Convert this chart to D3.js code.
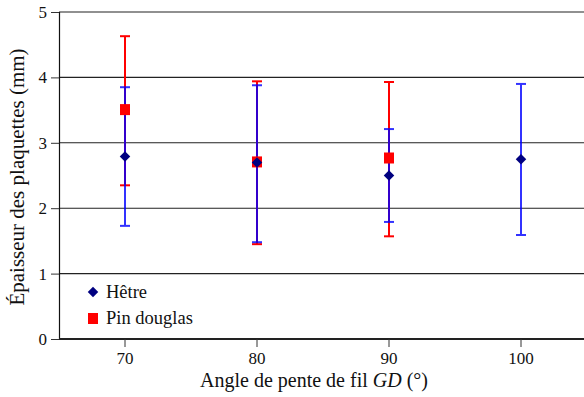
<!DOCTYPE html>
<html>
<head>
<meta charset="utf-8">
<script src="https://cdn.jsdelivr.net/npm/d3@7/dist/d3.min.js"></script>
<style>
  body { margin: 0; background: #fff; }
  svg { display: block; }
</style>
</head>
<body>
<svg id="chart" width="584" height="397" font-family="Liberation Serif"></svg>
<script>
// Fibre angle categories (x axis)
const angles = ["70", "80", "90", "100"];

// Hêtre: mean thickness and error bar limits (mm)
const hetreMean = [2.79, 2.70, 2.50, 2.75];
const hetreLow  = [1.73, 1.48, 1.79, 1.59];
const hetreHigh = [3.85, 3.88, 3.21, 3.90];

// Pin douglas: mean thickness and error bar limits (mm); no sample at 100°
const pinMean = [3.50, 2.70, 2.76, null];
const pinLow  = [2.35, 1.45, 1.57, null];
const pinHigh = [4.63, 3.94, 3.93, null];

const yTicks = [0, 1, 2, 3, 4, 5];

const FONT = "Liberation Serif";

const svg = d3.select("#chart");
const margin = { left: 59, top: 12, right: 0, bottom: 58 };
const width = 584, height = 397;

const x = d3.scaleBand().domain(angles).range([margin.left, 587]);
const y = d3.scaleLinear().domain([0, 5]).range([height - margin.bottom, margin.top]);

// horizontal grid lines
svg.append("g")
  .selectAll("line")
  .data(yTicks.filter(d => d > 0))
  .join("line")
  .attr("x1", margin.left).attr("x2", width)
  .attr("y1", d => y(d)).attr("y2", d => y(d))
  .attr("stroke", "#222").attr("stroke-width", 1.1);

// y axis
const yAxis = svg.append("g")
  .attr("transform", `translate(${margin.left},0)`)
  .call(d3.axisLeft(y).tickValues(yTicks).tickFormat(d3.format("d")).tickSize(8).tickPadding(4));
yAxis.attr("font-family", FONT).attr("font-size", 17);
yAxis.select(".domain").attr("stroke", "#111").attr("stroke-width", 1.2);
yAxis.selectAll(".tick line").attr("stroke", "#333");
yAxis.selectAll("text").attr("fill", "#111");

// x axis
const xAxis = svg.append("g")
  .attr("transform", `translate(0,${y(0)})`)
  .call(d3.axisBottom(x).tickSize(8).tickPadding(5).tickSizeOuter(0));
xAxis.attr("font-family", FONT).attr("font-size", 17);
xAxis.select(".domain").attr("stroke", "#222").attr("stroke-width", 2)
  .attr("d", `M${margin.left},0H${width}`);
xAxis.selectAll(".tick line").attr("stroke", "#333");
xAxis.selectAll("text").attr("fill", "#111");

const cx = i => x(angles[i]) + x.bandwidth() / 2;

function errorBars(mean, low, high, color, opacity) {
  const idx = mean.map((m, i) => i).filter(i => mean[i] != null);
  const g = svg.append("g").attr("stroke", color).attr("stroke-width", 2).attr("opacity", opacity);
  g.selectAll(".v").data(idx).join("line")
    .attr("x1", cx).attr("x2", cx)
    .attr("y1", i => y(low[i])).attr("y2", i => y(high[i]));
  g.selectAll(".lo").data(idx).join("line")
    .attr("x1", i => cx(i) - 5).attr("x2", i => cx(i) + 5)
    .attr("y1", i => y(low[i])).attr("y2", i => y(low[i]));
  g.selectAll(".hi").data(idx).join("line")
    .attr("x1", i => cx(i) - 5).attr("x2", i => cx(i) + 5)
    .attr("y1", i => y(high[i])).attr("y2", i => y(high[i]));
}

// error bars: pin douglas underneath, hêtre on top
errorBars(pinMean, pinLow, pinHigh, "#ff0000", 1);
errorBars(hetreMean, hetreLow, hetreHigh, "#0000ff", 0.8);

const pinIdx = pinMean.map((m, i) => i).filter(i => pinMean[i] != null);
svg.append("g").selectAll("rect").data(pinIdx).join("rect")
  .attr("x", i => cx(i) - 5).attr("y", i => y(pinMean[i]) - 6)
  .attr("width", 10).attr("height", 11)
  .attr("fill", "#ff0000");

const diamond = d3.symbol().type(d3.symbolDiamond2).size(70);
svg.append("g").selectAll("path").data(hetreMean.map((m, i) => i)).join("path")
  .attr("d", diamond)
  .attr("transform", i => `translate(${cx(i)},${y(hetreMean[i])})`)
  .attr("fill", "#000080");

// legend
const legend = svg.append("g").attr("font-family", FONT).attr("font-size", 18.5).attr("fill", "#111");
legend.append("path").attr("d", diamond).attr("transform", "translate(93,292)").attr("fill", "#000080");
legend.append("text").attr("x", 106).attr("y", 298).text("Hêtre");
legend.append("rect").attr("x", 88).attr("y", 313).attr("width", 10).attr("height", 11).attr("fill", "#ff0000");
legend.append("text").attr("x", 106).attr("y", 324).text("Pin douglas");

// axis titles
const xTitle = svg.append("text")
  .attr("font-family", FONT)
  .attr("x", 314).attr("y", 387).attr("text-anchor", "middle")
  .attr("font-size", 20).attr("fill", "#111");
xTitle.append("tspan").text("Angle de pente de fil ");
xTitle.append("tspan").attr("font-style", "italic").text("GD");
xTitle.append("tspan").text(" (°)");

svg.append("text")
  .attr("font-family", FONT)
  .attr("transform", "translate(24,177) rotate(-90)")
  .attr("text-anchor", "middle").attr("font-size", 21).attr("fill", "#111")
  .text("Épaisseur des plaquettes (mm)");
</script>
</body>
</html>
